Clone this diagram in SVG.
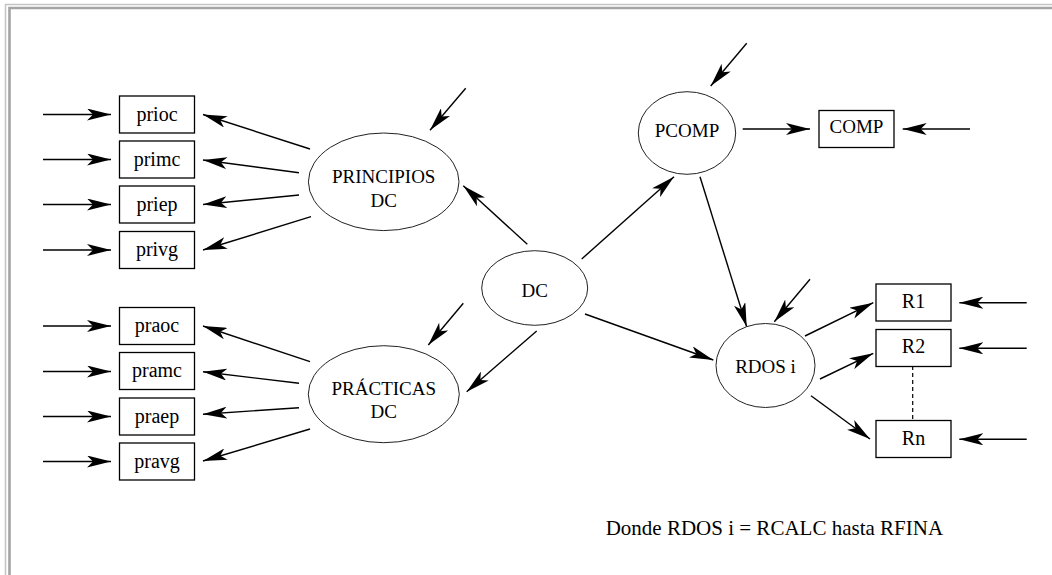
<svg xmlns="http://www.w3.org/2000/svg" width="1052" height="575" viewBox="0 0 1052 575">
<style>
  .box{fill:#fff;stroke:#000;stroke-width:1.3}
  .ell{fill:#fff;stroke:#222;stroke-width:1}
  text{font-family:'Liberation Serif','DejaVu Serif','Times New Roman',Times,serif;fill:#000}
  .t{text-anchor:middle}
  .lo{font-size:20px}
  .up{font-size:19px}
  .ar{stroke:#000;stroke-width:1.4;fill:none;marker-end:url(#ah)}
  .dash{stroke:#000;stroke-width:1.2;stroke-dasharray:4 3;fill:none}
</style>
<defs>
  <marker id="ah" markerUnits="userSpaceOnUse" markerWidth="24" markerHeight="12" refX="24" refY="6" orient="auto" viewBox="0 0 24 12">
    <path d="M0,0 L24,6 L0,12 L6,6 z" fill="#000"/>
  </marker>
</defs>
<rect width="1052" height="575" fill="#fff"/>
<g id="frame">
  <path d="M5.5,575 V4.5 H1052" fill="none" stroke="#c4c4c4" stroke-width="1.5"/>
  <path d="M9.5,575 V8 H1052" fill="none" stroke="#a4a4a4" stroke-width="2.6"/>
</g>
<g id="connectors">
  <line class="ar" x1="43" y1="114.5" x2="111" y2="114.5"/>
  <line class="ar" x1="43" y1="159.5" x2="111" y2="159.5"/>
  <line class="ar" x1="43" y1="204.5" x2="111" y2="204.5"/>
  <line class="ar" x1="43" y1="250" x2="111" y2="250"/>
  <line class="ar" x1="43" y1="326" x2="111" y2="326"/>
  <line class="ar" x1="43" y1="371.5" x2="111" y2="371.5"/>
  <line class="ar" x1="43" y1="416.5" x2="111" y2="416.5"/>
  <line class="ar" x1="43" y1="461.5" x2="111" y2="461.5"/>
  <line class="ar" x1="310" y1="149" x2="203" y2="114.5"/>
  <line class="ar" x1="299" y1="172.7" x2="203" y2="160"/>
  <line class="ar" x1="299" y1="195" x2="203" y2="204.5"/>
  <line class="ar" x1="311" y1="216.7" x2="203" y2="250"/>
  <line class="ar" x1="310" y1="361.7" x2="203" y2="326"/>
  <line class="ar" x1="299" y1="383.3" x2="203" y2="371.7"/>
  <line class="ar" x1="299" y1="407.7" x2="203" y2="414.3"/>
  <line class="ar" x1="310" y1="429" x2="203" y2="461"/>
  <line class="ar" x1="465.7" y1="88.3" x2="430" y2="130.3"/>
  <line class="ar" x1="463.3" y1="303.3" x2="428.3" y2="345"/>
  <line class="ar" x1="746.7" y1="43.3" x2="710.7" y2="86"/>
  <line class="ar" x1="810" y1="279.3" x2="774.3" y2="321.7"/>
  <line class="ar" x1="527.3" y1="244.3" x2="463.3" y2="185.7"/>
  <line class="ar" x1="536.7" y1="331" x2="466.7" y2="391.7"/>
  <line class="ar" x1="581.7" y1="259" x2="674" y2="176.7"/>
  <line class="ar" x1="585" y1="314" x2="713.3" y2="360"/>
  <line class="ar" x1="700" y1="176.7" x2="746.7" y2="326.7"/>
  <line class="ar" x1="742.7" y1="129" x2="810" y2="129"/>
  <line class="ar" x1="970" y1="129" x2="902.7" y2="129"/>
  <line class="ar" x1="805" y1="336" x2="873.3" y2="302.7"/>
  <line class="ar" x1="820" y1="379" x2="873.3" y2="353.3"/>
  <line class="ar" x1="811" y1="395.7" x2="870" y2="439"/>
  <line class="ar" x1="1026.7" y1="302.7" x2="959.3" y2="302.7"/>
  <line class="ar" x1="1026.7" y1="348.3" x2="959.3" y2="348.3"/>
  <line class="ar" x1="1026.7" y1="439.3" x2="959.3" y2="439.3"/>
  <line class="dash" x1="912.7" y1="366" x2="912.7" y2="420.5"/>
</g>
<g id="prioc"><rect class="box" x="119.5" y="96" width="75" height="37"/><text class="t lo" x="157" y="120.5">prioc</text></g>
<g id="primc"><rect class="box" x="119.5" y="141" width="75" height="37"/><text class="t lo" x="157" y="165.5">primc</text></g>
<g id="priep"><rect class="box" x="119.5" y="186" width="75" height="37"/><text class="t lo" x="157" y="210.5">priep</text></g>
<g id="privg"><rect class="box" x="119.5" y="231.5" width="75" height="37"/><text class="t lo" x="157" y="256">privg</text></g>
<g id="praoc"><rect class="box" x="119.5" y="307.5" width="75" height="37"/><text class="t lo" x="157" y="332">praoc</text></g>
<g id="pramc"><rect class="box" x="119.5" y="352.5" width="75" height="37"/><text class="t lo" x="157" y="377">pramc</text></g>
<g id="praep"><rect class="box" x="119.5" y="398" width="75" height="37"/><text class="t lo" x="157" y="422.5">praep</text></g>
<g id="pravg"><rect class="box" x="119.5" y="443" width="75" height="37"/><text class="t lo" x="157" y="467.5">pravg</text></g>
<g id="principios"><ellipse class="ell" cx="383.7" cy="181.8" rx="75.3" ry="48.8"/><text class="t up" x="383.7" y="183.3">PRINCIPIOS</text><text class="t up" x="383.7" y="206.7">DC</text></g>
<g id="practicas"><ellipse class="ell" cx="383.8" cy="394.2" rx="75.5" ry="48.5"/><text class="t up" x="383.8" y="395">PRÁCTICAS</text><text class="t up" x="383.8" y="418.3">DC</text></g>
<g id="dc"><ellipse class="ell" cx="534.7" cy="288" rx="53" ry="37.3"/><text class="t up" x="534.7" y="296.7">DC</text></g>
<g id="pcomp"><ellipse class="ell" cx="687" cy="133" rx="48.7" ry="41.3"/><text class="t up" x="687" y="136.7">PCOMP</text></g>
<g id="comp"><rect class="box" x="819" y="110.5" width="75" height="37"/><text class="t up" x="856.5" y="133.3">COMP</text></g>
<g id="rdos"><ellipse class="ell" cx="765.5" cy="365.5" rx="49.5" ry="42"/><text class="t up" x="765.5" y="373.3">RDOS i</text></g>
<g id="r1"><rect class="box" x="876" y="284" width="75" height="37"/><text class="t lo" x="913.5" y="308.3">R1</text></g>
<g id="r2"><rect class="box" x="876" y="329.5" width="75" height="37"/><text class="t lo" x="913.5" y="353">R2</text></g>
<g id="rn"><rect class="box" x="876" y="420.5" width="75" height="37"/><text class="t lo" x="913.5" y="444.5">Rn</text></g>
<g id="note"><text x="605.7" y="535" font-size="21">Donde RDOS i = RCALC hasta RFINA</text></g>
</svg>
